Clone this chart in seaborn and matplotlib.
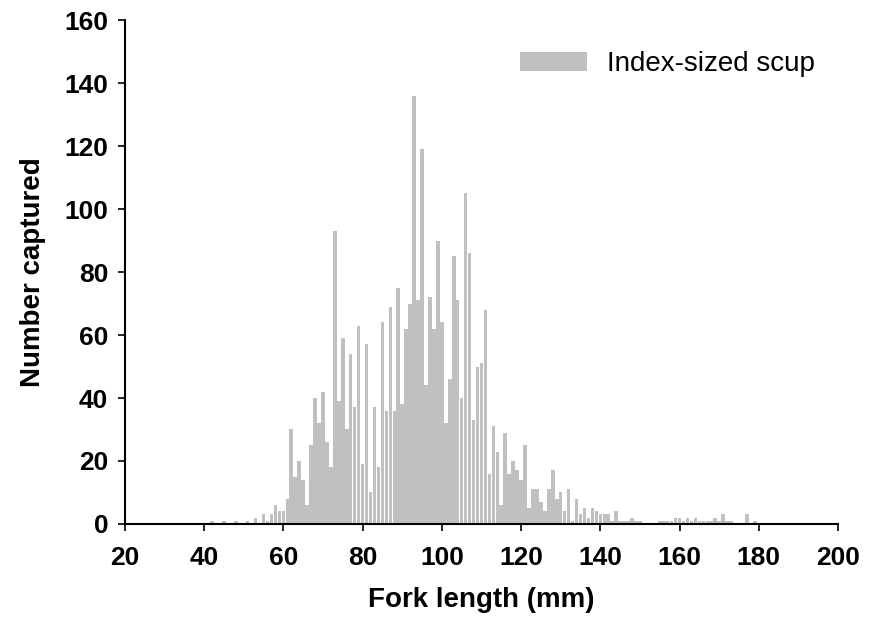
import numpy as np
import pandas as pd
import matplotlib
matplotlib.use("Agg")
import matplotlib.pyplot as plt
import seaborn as sns

# fork length (mm), one bin per mm
lengths = list(range(42, 180))

# number captured per mm bin
counts = [
    1, 0, 0, 1, 0, 0, 1, 0, 0, 1,          # 42-51
    0, 2, 0, 3, 1, 3, 6, 4, 4, 8,          # 52-61
    30, 15, 20, 14, 6, 25, 40, 32, 42, 26,  # 62-71
    18, 93, 39, 59, 30, 54, 37, 63, 19, 57,  # 72-81
    10, 37, 18, 64, 36, 69, 36, 75, 38, 62,  # 82-91
    70, 136, 71, 119, 44, 72, 62, 90, 64, 32,  # 92-101
    46, 85, 71, 40, 105, 86, 33, 50, 51, 68,  # 102-111
    16, 31, 23, 6, 29, 16, 20, 17, 14, 25,  # 112-121
    5, 11, 11, 7, 4, 11, 17, 8, 10, 4,      # 122-131
    11, 1, 8, 3, 5, 2, 5, 4, 3, 3,          # 132-141
    3, 1, 4, 1, 1, 1, 2, 1, 1, 0,           # 142-151
    0, 0, 0, 1, 1, 1, 1, 2, 2, 1,           # 152-161
    2, 1, 2, 1, 1, 1, 1, 2, 1, 3,           # 162-171
    1, 1, 0, 0, 0, 3, 0, 1,                 # 172-179
]

series_label = "Index-sized scup"
x_title = "Fork length (mm)"
y_title = "Number captured"
x_ticks = list(range(20, 201, 20))
y_ticks = list(range(0, 161, 20))

df = pd.DataFrame({"length": lengths, "count": counts})

sns.set_style("ticks")
plt.rcParams["font.family"] = ["Liberation Sans", "DejaVu Sans"]
plt.rcParams["text.color"] = "black"
plt.rcParams["axes.labelcolor"] = "black"
plt.rcParams["xtick.color"] = "black"
plt.rcParams["ytick.color"] = "black"

fig = plt.figure(figsize=(8.73, 6.32), dpi=100)
ax = fig.add_axes([0.143, 0.171, 0.817, 0.797])

sns.histplot(data=df, x="length", weights="count", discrete=True, shrink=0.9,
             color="#c0c0c0", alpha=1, linewidth=0, label=series_label, ax=ax)

ax.set_xlim(20, 200)
ax.set_ylim(0, 160)
ax.set_xticks(x_ticks)
ax.set_yticks(y_ticks)
ax.tick_params(axis="both", direction="out", length=5, width=1.2, labelsize=19)
ax.tick_params(axis="x", pad=11)
ax.tick_params(axis="y", pad=7)
for lab in ax.get_xticklabels() + ax.get_yticklabels():
    lab.set_fontweight("bold")

ax.set_xlabel(x_title, fontsize=20, fontweight="bold", labelpad=12)
ax.set_ylabel(y_title, fontsize=20, fontweight="bold", labelpad=13)

sns.despine(ax=ax)
for side in ["left", "bottom"]:
    ax.spines[side].set_linewidth(1.5)
    ax.spines[side].set_color("black")

ax.legend(loc="upper right", bbox_to_anchor=(1.0, 0.985), frameon=False,
          fontsize=20, handlelength=2.4, handleheight=0.7, handletextpad=0.7,
          borderaxespad=0.45)

fig.savefig("out.png", dpi=100)
